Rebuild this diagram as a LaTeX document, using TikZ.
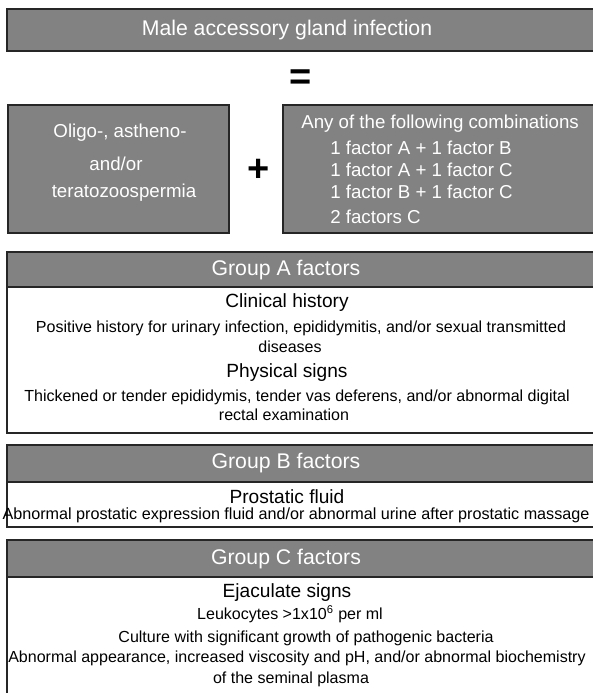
\documentclass[tikz,border=0pt]{standalone}
\usepackage{fontspec}
\setmainfont{Liberation Sans}
\begin{document}
\begin{tikzpicture}[x=0.025cm, y=-0.025cm, every node/.style={inner sep=0pt},
    graybox/.style={draw=black!85, line width=1.3pt, fill=black!49},
    whitebox/.style={draw=black!85, line width=1.3pt, fill=white},
    headtext/.style={text=white, font=\fontsize{15.1}{18}\selectfont},
    graytext/.style={text=white, font=\fontsize{13.3}{16}\selectfont},
    subhead/.style={font=\fontsize{13.6}{16}\selectfont},
    bodytext/.style={font=\fontsize{11.4}{13}\selectfont},
    bigsign/.style={font=\fontsize{27}{27}\selectfont\bfseries}]
    \useasboundingbox (0,0) rectangle (593,693);

    % Top box
    \draw[graybox] (7,9) rectangle (598,51);
    \node[headtext] (title) at (287,30) {Male accessory gland infection};
    \node[bigsign] (equals) at (301,80) {=};

    % Left and right boxes
    \draw[graybox] (8,105) rectangle (229,233);
    \node[graytext] (oligo) at (120,133) {Oligo-, astheno-};
    \node[graytext] (andor) at (116,164) {and/or};
    \node[graytext] (terato) at (124,193) {teratozoospermia};
    \node[bigsign] (plus) at (259,170) {+};
    \draw[graybox] (283,105) rectangle (598,233);
    \node[graytext, anchor=west] (anyof) at (301,124) {Any of the following combinations};
    \node[graytext, anchor=west] (combAB) at (330,148) {1 factor A + 1 factor B};
    \node[graytext, anchor=west] (combAC) at (330,170) {1 factor A + 1 factor C};
    \node[graytext, anchor=west] (combBC) at (330,192) {1 factor B + 1 factor C};
    \node[graytext, anchor=west] (combCC) at (330,217) {2 factors C};

    % Group A
    \draw[whitebox] (7,287) rectangle (598,433);
    \draw[graybox] (7,252) rectangle (598,287);
    \node[headtext] (groupA) at (286,270) {Group A factors};
    \node[subhead] (clinical) at (287,303) {Clinical history};
    \node[bodytext] (history) at (301,328) {Positive history for urinary infection, epididymitis, and/or sexual transmitted};
    \node[bodytext] (diseases) at (290,347) {diseases};
    \node[subhead] (physical) at (287,373) {Physical signs};
    \node[bodytext] (tender) at (297,397) {Thickened or tender epididymis, tender vas deferens, and/or abnormal digital};
    \node[bodytext] (rectal) at (284,415) {rectal examination};

    % Group B
    \draw[whitebox] (7,482) rectangle (598,527);
    \draw[graybox] (7,445) rectangle (598,482);
    \node[headtext] (groupB) at (286,463) {Group B factors};
    \node[subhead] (prostatic) at (287,497) {Prostatic fluid};
    \node[bodytext, font=\fontsize{11.5}{13}\selectfont] (massage) at (296,515) {Abnormal prostatic expression fluid and/or abnormal urine after prostatic massage};

    % Group C
    \draw[whitebox] (7,577) rectangle (598,700);
    \draw[graybox] (7,540) rectangle (598,577);
    \node[headtext] (groupC) at (286,559) {Group C factors};
    \node[subhead] (ejaculate) at (287,593) {Ejaculate signs};
    \node[bodytext] (leuko) at (290,614) {Leukocytes >1x10\textsuperscript{6} per ml};
    \node[bodytext] (culture) at (306,638) {Culture with significant growth of pathogenic bacteria};
    \node[bodytext] (appearance) at (297,658) {Abnormal appearance, increased viscosity and pH, and/or abnormal biochemistry};
    \node[bodytext] (plasma) at (291,679) {of the seminal plasma};
\end{tikzpicture}
\end{document}
